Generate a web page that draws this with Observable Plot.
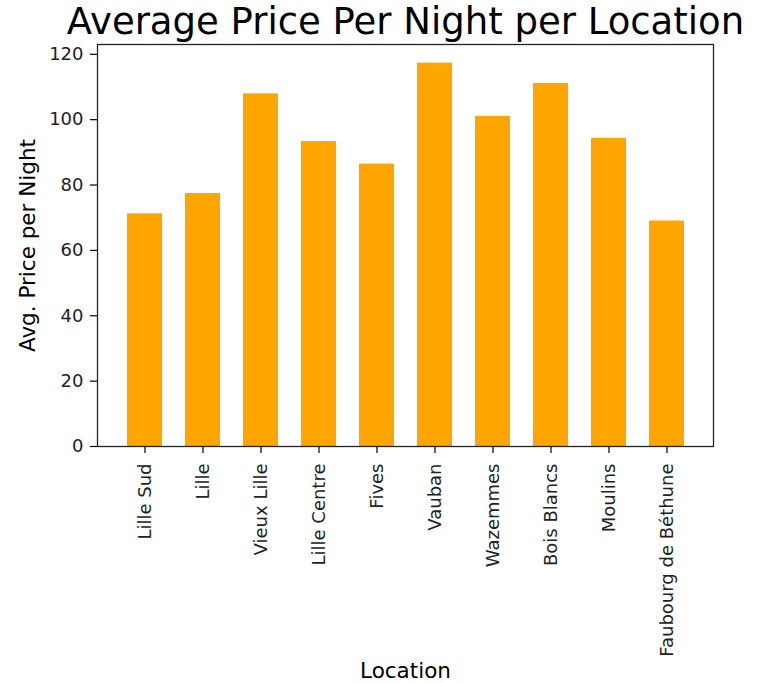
<!DOCTYPE html>
<html>
<head>
<meta charset="utf-8">
<script src="https://cdn.jsdelivr.net/npm/d3@7"></script>
<script src="https://cdn.jsdelivr.net/npm/@observablehq/plot@0.6"></script>
<style>
  body { margin: 0; background: #fff; }
  svg { display: block; }
</style>
</head>
<body>
<div id="chart"></div>
<script>
const locations = ["Lille Sud", "Lille", "Vieux Lille", "Lille Centre", "Fives", "Vauban", "Wazemmes", "Bois Blancs", "Moulins", "Faubourg de Béthune"];
const avgPrice = [71.2, 77.4, 107.9, 93.3, 86.4, 117.3, 101.0, 111.1, 94.3, 69.0];
const yTicks = [0, 20, 40, 60, 80, 100, 120];
const titleText = "Average Price Per Night per Location";
const xLabel = "Location";
const yLabel = "Avg. Price per Night";

const data = locations.map((loc, i) => ({location: loc, price: avgPrice[i]}));
const font = "DejaVu Sans, sans-serif";

const chart = Plot.plot({
  width: 761,
  height: 683,
  marginLeft: 97,
  marginRight: 48,
  marginTop: 44,
  marginBottom: 237,
  style: {fontFamily: font, fontSize: "18px", color: "#000", background: "#fff"},
  x: {domain: locations, paddingInner: 0.4, paddingOuter: 0.48, label: null},
  y: {domain: [0, 123], label: null},
  marks: [
    Plot.barY(data, {x: "location", y: "price", fill: "#FFA500"}),
    Plot.axisY({ticks: yTicks, tickSize: 7, tickPadding: 7, fontSize: 18, label: null, stroke: "#000", strokeWidth: 1.2, fill: "#222"}),
    Plot.axisX({tickSize: 7, tickPadding: 10, tickRotate: -90, fontSize: 18, label: null, stroke: "#000", strokeWidth: 1.2, fill: "#222"}),
    Plot.frame({stroke: "#222", strokeWidth: 1.3}),
    Plot.text([titleText], {frameAnchor: "top", lineAnchor: "top", dy: -37, fontSize: 37, fill: "#000"}),
    Plot.text([xLabel], {frameAnchor: "bottom", lineAnchor: "bottom", dy: 231, fontSize: 21.5, fill: "#000"}),
    Plot.text([yLabel], {frameAnchor: "left", textAnchor: "middle", lineAnchor: "middle", dx: -69, rotate: -90, fontSize: 21.5, fill: "#000"})
  ]
});
document.getElementById("chart").appendChild(chart);
</script>
</body>
</html>
